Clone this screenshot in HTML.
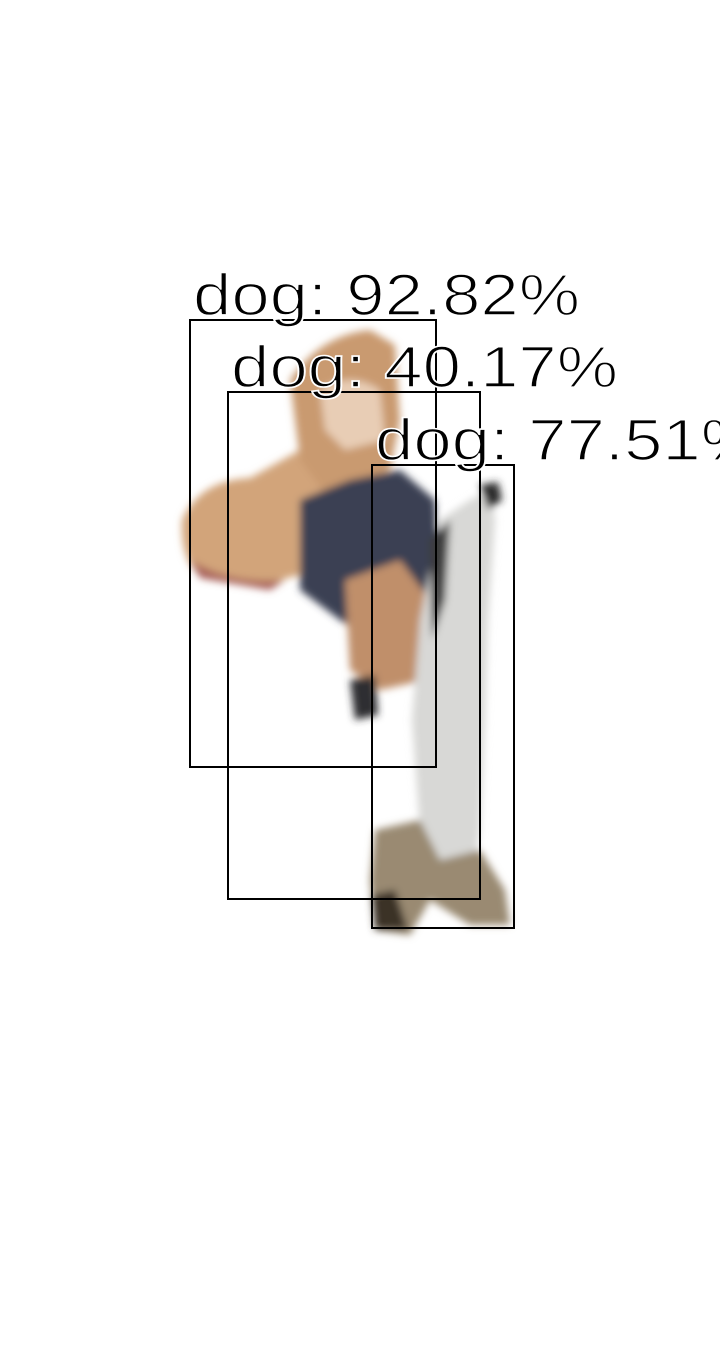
<!DOCTYPE html>
<html><head><meta charset="utf-8"><style>
html,body{margin:0;padding:0;background:#fff;}
svg{display:block;}
</style></head><body>
<svg width="720" height="1347" viewBox="0 0 720 1347">
<defs><filter id="bl" x="-20%" y="-20%" width="140%" height="140%"><feGaussianBlur stdDeviation="4"/></filter></defs>
<g filter="url(#bl)">
  <path d="M182 520 Q200 480 250 478 L300 450 L330 470 L320 540 L300 575 L260 585 L210 580 Q180 570 182 520Z" fill="#d2a47a"/>
  <path d="M190 560 Q230 585 285 580 L270 590 L200 578Z" fill="#a8605a"/>
  <path d="M290 380 Q320 335 370 330 L395 345 L400 420 L390 470 L330 500 L300 460 Z" fill="#c99a70"/>
  <path d="M320 390 Q350 370 380 390 L385 440 L345 450 L325 430Z" fill="#e8cdb5"/>
  <path d="M300 500 L350 480 L400 470 L435 500 L440 580 L410 650 L370 640 L340 620 L300 590 Z" fill="#3a3f52"/>
  <path d="M345 580 L400 560 L430 600 L425 680 L380 690 L350 670 Z" fill="#c08f6a"/>
  <path d="M350 680 L375 675 L378 715 L355 720 Z" fill="#2e2e30"/>
  <path d="M440 520 L470 500 L490 490 L495 520 L488 620 L485 720 L480 830 L470 900 L440 900 L420 830 L412 720 L420 620 Z" fill="#d8d8d6"/>
  <path d="M430 540 L450 520 L445 600 L432 640 Z" fill="#3c3c3c"/>
  <path d="M375 830 L420 820 L440 860 L480 850 L505 890 L510 925 L470 925 L430 900 L410 935 L375 930 L370 880 Z" fill="#9a8a72"/>
  <path d="M372 895 L395 890 L408 930 L375 930Z" fill="#3a3028"/>
  <path d="M480 485 L498 482 L502 500 L488 510Z" fill="#2a2a2a"/>
</g>
<g id="boxes"></g>
</svg>
<script>
const labels = ["dog", "dog", "dog"];
const scores = [92.82, 40.17, 77.51];
const boxX1 = [190, 228, 372];
const boxY1 = [320, 392, 465];
const boxX2 = [436, 480, 514];
const boxY2 = [767, 899, 928];
const NS = "http://www.w3.org/2000/svg";
const g = document.getElementById("boxes");
for (let i = 0; i < labels.length; i++) {
  const r = document.createElementNS(NS, "rect");
  
  
  r.setAttribute("x", boxX1[i]); r.setAttribute("y", boxY1[i]);
  r.setAttribute("width", boxX2[i] - boxX1[i]); r.setAttribute("height", boxY2[i] - boxY1[i]);
  r.setAttribute("fill", "none"); r.setAttribute("stroke", "#000"); r.setAttribute("stroke-width", "2");
  g.appendChild(r);
  const t = document.createElementNS(NS, "text");
  
  
  t.setAttribute("x", boxX1[i] + 3); t.setAttribute("y", boxY1[i] - 5);
  t.setAttribute("font-family", "Liberation Sans, sans-serif");
  t.setAttribute("font-size", "58");
  t.setAttribute("textLength", "387");
  t.setAttribute("lengthAdjust", "spacingAndGlyphs");
  t.setAttribute("fill", "#000");
  t.setAttribute("stroke", "#fff");
  t.setAttribute("stroke-width", "1.6");
  t.textContent = labels[i] + ": " + scores[i].toFixed(2) + "%";
  g.appendChild(t);
}
</script>
</body></html>
